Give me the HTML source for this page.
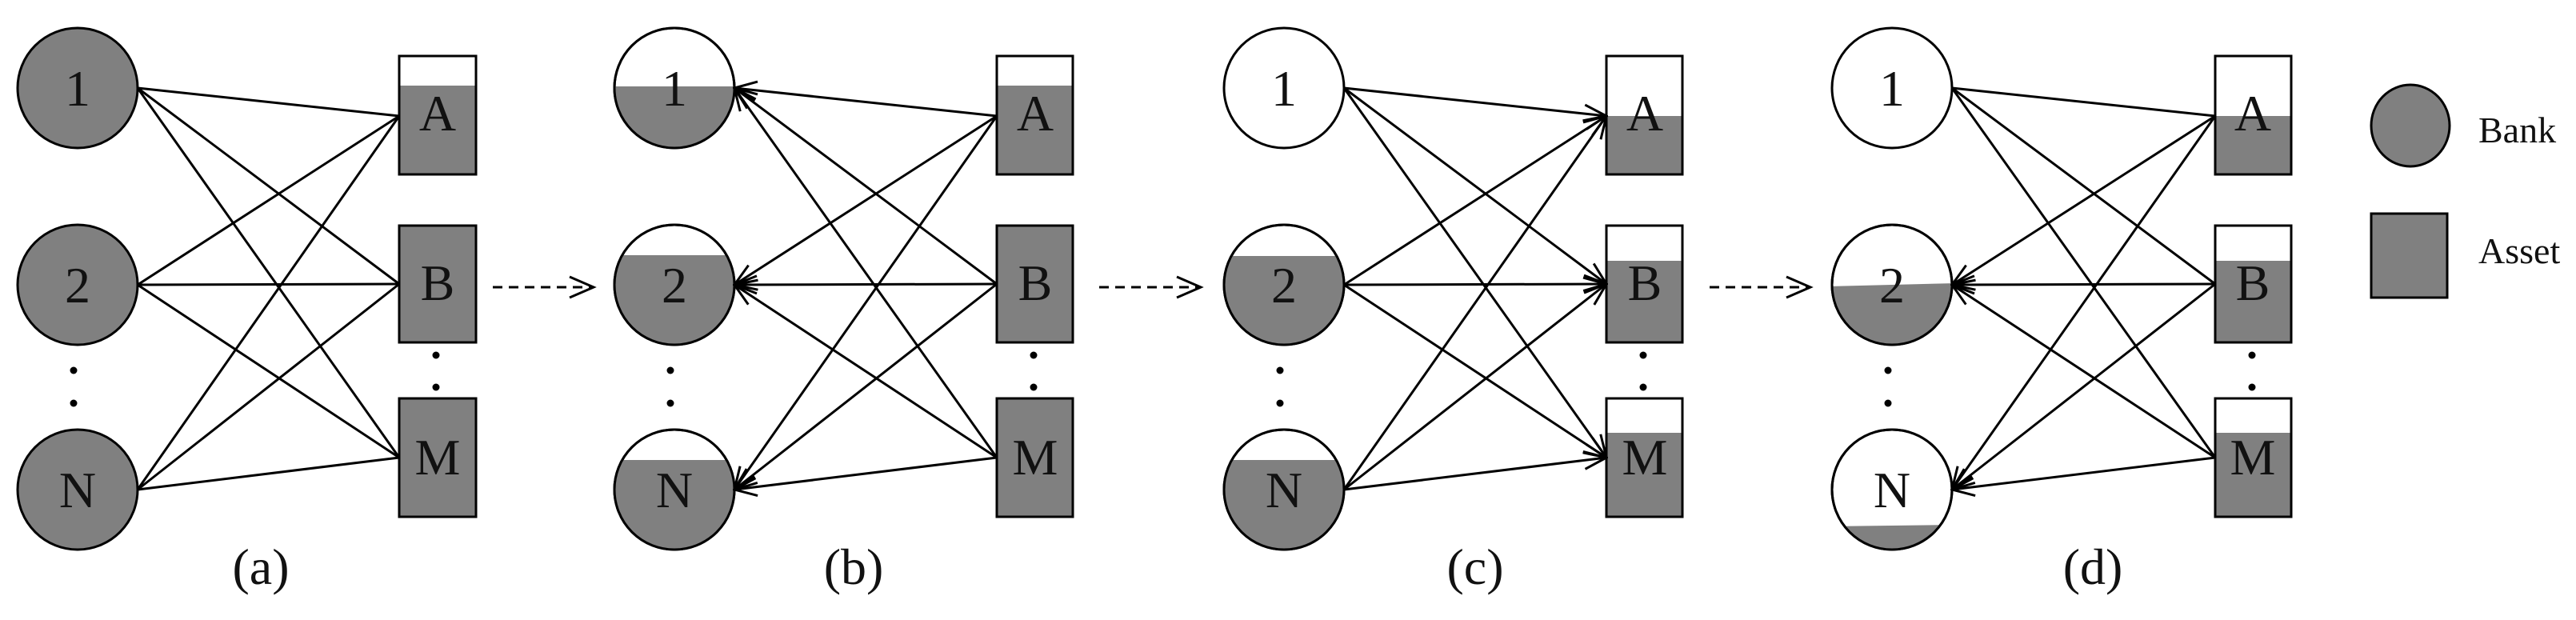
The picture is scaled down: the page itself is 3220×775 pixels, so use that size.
<!DOCTYPE html>
<html><head><meta charset="utf-8"><style>
html,body{margin:0;padding:0;background:#fff}
svg{display:block}
text{font-family:"Liberation Serif",serif;fill:#111}
</style></head><body>
<svg width="3220" height="775" viewBox="0 0 3220 775" xmlns="http://www.w3.org/2000/svg">
<defs>
<marker id="ah" markerUnits="userSpaceOnUse" viewBox="-32 -14 34 28" refX="0" refY="0" markerWidth="34" markerHeight="28" orient="auto">
<path d="M-28,-11 L0,0 L-28,11" fill="none" stroke="#000" stroke-width="3"/>
</marker>
<clipPath id="b1"><circle cx="843" cy="110" r="75"/></clipPath>
<clipPath id="b2"><circle cx="843" cy="356" r="75"/></clipPath>
<clipPath id="bN"><circle cx="843" cy="612" r="75"/></clipPath>
<clipPath id="c2"><circle cx="1605" cy="356" r="75"/></clipPath>
<clipPath id="cN"><circle cx="1605" cy="612" r="75"/></clipPath>
<clipPath id="d2"><circle cx="2365" cy="356" r="75"/></clipPath>
<clipPath id="dN"><circle cx="2365" cy="612" r="75"/></clipPath>
</defs>

<g stroke="#000" stroke-width="3">
<!-- Panel a -->
<circle cx="97" cy="110" r="75" fill="#808080"/>
<circle cx="97" cy="356" r="75" fill="#808080"/>
<circle cx="97" cy="612" r="75" fill="#808080"/>
<rect x="499" y="70" width="96" height="148" fill="#fff"/>
<rect x="499" y="107" width="96" height="111" fill="#808080" stroke="none"/>
<rect x="499" y="70" width="96" height="148" fill="none"/>
<rect x="499" y="282" width="96" height="146" fill="#808080"/>
<rect x="499" y="498" width="96" height="148" fill="#808080"/>
<line x1="172" y1="110" x2="499" y2="145"/>
<line x1="172" y1="110" x2="499" y2="355"/>
<line x1="172" y1="110" x2="499" y2="572"/>
<line x1="172" y1="356" x2="499" y2="145"/>
<line x1="172" y1="356" x2="499" y2="355"/>
<line x1="172" y1="356" x2="499" y2="572"/>
<line x1="172" y1="612" x2="499" y2="145"/>
<line x1="172" y1="612" x2="499" y2="355"/>
<line x1="172" y1="612" x2="499" y2="572"/>

<!-- Panel b -->
<circle cx="843" cy="110" r="75" fill="#fff"/>
<rect x="760" y="108" width="170" height="90" fill="#808080" stroke="none" clip-path="url(#b1)"/>
<circle cx="843" cy="110" r="75" fill="none"/>
<circle cx="843" cy="356" r="75" fill="#fff"/>
<rect x="760" y="319" width="170" height="120" fill="#808080" stroke="none" clip-path="url(#b2)"/>
<circle cx="843" cy="356" r="75" fill="none"/>
<circle cx="843" cy="612" r="75" fill="#fff"/>
<rect x="760" y="575" width="170" height="120" fill="#808080" stroke="none" clip-path="url(#bN)"/>
<circle cx="843" cy="612" r="75" fill="none"/>
<rect x="1246" y="70" width="95" height="148" fill="#fff"/>
<rect x="1246" y="107" width="95" height="111" fill="#808080" stroke="none"/>
<rect x="1246" y="70" width="95" height="148" fill="none"/>
<rect x="1246" y="282" width="95" height="146" fill="#808080"/>
<rect x="1246" y="498" width="95" height="148" fill="#808080"/>
<g marker-end="url(#ah)">
<line x2="918" y2="110" x1="1246" y1="145"/>
<line x2="918" y2="110" x1="1246" y1="355"/>
<line x2="918" y2="110" x1="1246" y1="572"/>
<line x2="918" y2="356" x1="1246" y1="145"/>
<line x2="918" y2="356" x1="1246" y1="355"/>
<line x2="918" y2="356" x1="1246" y1="572"/>
<line x2="918" y2="612" x1="1246" y1="145"/>
<line x2="918" y2="612" x1="1246" y1="355"/>
<line x2="918" y2="612" x1="1246" y1="572"/>
</g>

<!-- Panel c -->
<circle cx="1605" cy="110" r="75" fill="#fff"/>
<circle cx="1605" cy="356" r="75" fill="#fff"/>
<rect x="1520" y="320" width="170" height="120" fill="#808080" stroke="none" clip-path="url(#c2)"/>
<circle cx="1605" cy="356" r="75" fill="none"/>
<circle cx="1605" cy="612" r="75" fill="#fff"/>
<rect x="1520" y="575" width="170" height="120" fill="#808080" stroke="none" clip-path="url(#cN)"/>
<circle cx="1605" cy="612" r="75" fill="none"/>
<rect x="2008" y="70" width="95" height="148" fill="#fff"/>
<rect x="2008" y="145" width="95" height="73" fill="#808080" stroke="none"/>
<rect x="2008" y="70" width="95" height="148" fill="none"/>
<rect x="2008" y="282" width="95" height="146" fill="#fff"/>
<rect x="2008" y="326" width="95" height="102" fill="#808080" stroke="none"/>
<rect x="2008" y="282" width="95" height="146" fill="none"/>
<rect x="2008" y="498" width="95" height="148" fill="#fff"/>
<rect x="2008" y="541" width="95" height="105" fill="#808080" stroke="none"/>
<rect x="2008" y="498" width="95" height="148" fill="none"/>
<g marker-end="url(#ah)">
<line x1="1680" y1="110" x2="2008" y2="145"/>
<line x1="1680" y1="110" x2="2008" y2="355"/>
<line x1="1680" y1="110" x2="2008" y2="572"/>
<line x1="1680" y1="356" x2="2008" y2="145"/>
<line x1="1680" y1="356" x2="2008" y2="355"/>
<line x1="1680" y1="356" x2="2008" y2="572"/>
<line x1="1680" y1="612" x2="2008" y2="145"/>
<line x1="1680" y1="612" x2="2008" y2="355"/>
<line x1="1680" y1="612" x2="2008" y2="572"/>
</g>

<!-- Panel d -->
<circle cx="2365" cy="110" r="75" fill="#fff"/>
<circle cx="2365" cy="356" r="75" fill="#fff"/>
<polygon points="2285,358 2445,354 2445,440 2285,440" fill="#808080" stroke="none" clip-path="url(#d2)"/>
<circle cx="2365" cy="356" r="75" fill="none"/>
<circle cx="2365" cy="612" r="75" fill="#fff"/>
<polygon points="2285,658 2445,656 2445,700 2285,700" fill="#808080" stroke="none" clip-path="url(#dN)"/>
<circle cx="2365" cy="612" r="75" fill="none"/>
<rect x="2769" y="70" width="95" height="148" fill="#fff"/>
<rect x="2769" y="145" width="95" height="73" fill="#808080" stroke="none"/>
<rect x="2769" y="70" width="95" height="148" fill="none"/>
<rect x="2769" y="282" width="95" height="146" fill="#fff"/>
<rect x="2769" y="326" width="95" height="102" fill="#808080" stroke="none"/>
<rect x="2769" y="282" width="95" height="146" fill="none"/>
<rect x="2769" y="498" width="95" height="148" fill="#fff"/>
<rect x="2769" y="541" width="95" height="105" fill="#808080" stroke="none"/>
<rect x="2769" y="498" width="95" height="148" fill="none"/>
<line x1="2440" y1="110" x2="2769" y2="145"/>
<line x1="2440" y1="110" x2="2769" y2="355"/>
<line x1="2440" y1="110" x2="2769" y2="572"/>
<g marker-end="url(#ah)">
<line x2="2440" y2="356" x1="2769" y1="145"/>
<line x2="2440" y2="356" x1="2769" y1="355"/>
<line x2="2440" y2="356" x1="2769" y1="572"/>
<line x2="2440" y2="612" x1="2769" y1="145"/>
<line x2="2440" y2="612" x1="2769" y1="355"/>
<line x2="2440" y2="612" x1="2769" y1="572"/>
</g>

<!-- dashed arrows -->
<line x1="616" y1="359" x2="740" y2="359" stroke-dasharray="12 8"/>
<path d="M712,346 L742,359 L712,372" fill="none"/>
<line x1="1374" y1="359" x2="1499" y2="359" stroke-dasharray="12 8"/>
<path d="M1471,346 L1501,359 L1471,372" fill="none"/>
<line x1="2137" y1="359" x2="2261" y2="359" stroke-dasharray="12 8"/>
<path d="M2233,346 L2263,359 L2233,372" fill="none"/>

<!-- legend -->
<ellipse cx="3013" cy="157" rx="49" ry="51" fill="#808080"/>
<rect x="2964" y="267" width="95" height="105" fill="#808080"/>
</g>

<!-- dots -->
<g fill="#000">
<circle cx="92" cy="463" r="4.5"/><circle cx="92" cy="504" r="4.5"/>
<circle cx="545" cy="444" r="4.5"/><circle cx="545" cy="484" r="4.5"/>
<circle cx="838" cy="463" r="4.5"/><circle cx="838" cy="504" r="4.5"/>
<circle cx="1292" cy="444" r="4.5"/><circle cx="1292" cy="484" r="4.5"/>
<circle cx="1600" cy="463" r="4.5"/><circle cx="1600" cy="504" r="4.5"/>
<circle cx="2054" cy="444" r="4.5"/><circle cx="2054" cy="484" r="4.5"/>
<circle cx="2360" cy="463" r="4.5"/><circle cx="2360" cy="504" r="4.5"/>
<circle cx="2815" cy="444" r="4.5"/><circle cx="2815" cy="484" r="4.5"/>
</g>

<!-- text -->
<g font-size="64" text-anchor="middle">
<text x="97" y="132">1</text><text x="97" y="378">2</text><text x="97" y="634">N</text>
<text x="547" y="163">A</text><text x="547" y="375">B</text><text x="547" y="593">M</text>
<text x="843" y="132">1</text><text x="843" y="378">2</text><text x="843" y="634">N</text>
<text x="1294" y="163">A</text><text x="1294" y="375">B</text><text x="1294" y="593">M</text>
<text x="1605" y="132">1</text><text x="1605" y="378">2</text><text x="1605" y="634">N</text>
<text x="2056" y="163">A</text><text x="2056" y="375">B</text><text x="2056" y="593">M</text>
<text x="2365" y="132">1</text><text x="2365" y="378">2</text><text x="2365" y="634">N</text>
<text x="2816" y="163">A</text><text x="2816" y="375">B</text><text x="2816" y="593">M</text>
</g>
<g font-size="64" text-anchor="middle">
<text x="326" y="730">(a)</text>
<text x="1067" y="730">(b)</text>
<text x="1844" y="730">(c)</text>
<text x="2616" y="730">(d)</text>
</g>
<g font-size="46">
<text x="3098" y="178">Bank</text>
<text x="3098" y="329">Asset</text>
</g>
</svg>
</body></html>
